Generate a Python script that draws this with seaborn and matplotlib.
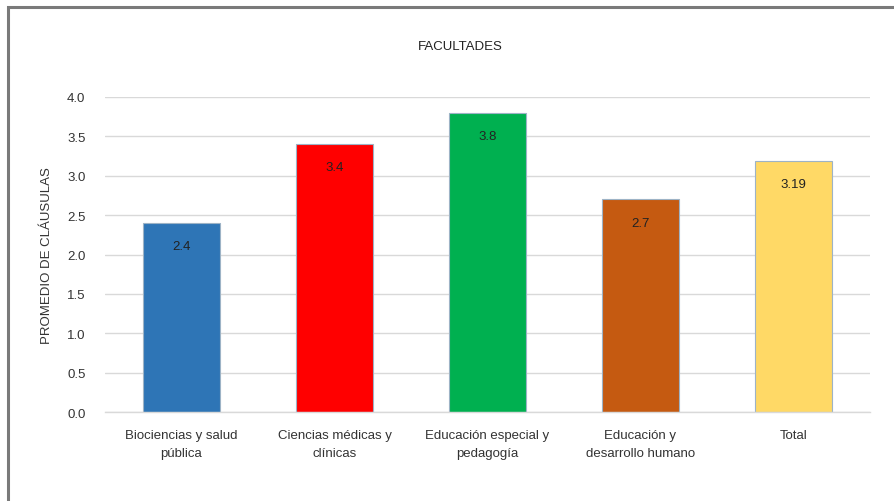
import matplotlib
matplotlib.use("Agg")
import matplotlib.pyplot as plt
import seaborn as sns
import pandas as pd
from matplotlib.patches import Rectangle

categories = ["Biociencias y salud\npública", "Ciencias médicas y\nclínicas",
              "Educación especial y\npedagogía", "Educación y\ndesarrollo humano", "Total"]
values = [2.4, 3.4, 3.8, 2.7, 3.19]
value_labels = ["2.4", "3.4", "3.8", "2.7", "3.19"]
colors = ["#2E75B6", "#FF0000", "#00B050", "#C55A11", "#FFD966"]
yticks = [0.0, 0.5, 1.0, 1.5, 2.0, 2.5, 3.0, 3.5, 4.0]

sns.set_theme(style="white")
plt.rcParams['font.family'] = ['Liberation Sans', 'DejaVu Sans']

df = pd.DataFrame({"cat": categories, "val": values})

fig = plt.figure(figsize=(8.95, 5.02), dpi=100)
ax = fig.add_axes([105/895, 1-413/502, 765/895, (413-98)/502])

sns.barplot(data=df, x="cat", y="val", hue="cat", palette=colors, legend=False,
            width=0.5, ax=ax, edgecolor="#9db3c6", linewidth=0.8, saturation=1)

ax.set_ylim(0, 4.0)
ax.set_xlim(-0.5, 4.5)
ax.set_yticks(yticks)
ax.set_yticklabels([f"{t:.1f}" for t in yticks], fontsize=9.5, color="#333333")
ax.tick_params(axis="x", labelsize=9.5, colors="#333333", length=0, pad=12)
ax.tick_params(axis="y", length=0, pad=14)
for lbl in ax.get_xticklabels():
    lbl.set_linespacing(1.75)
ax.yaxis.grid(True, color="#d9d9d9", linewidth=1)
ax.set_axisbelow(True)
for s in ["top", "right", "left"]:
    ax.spines[s].set_visible(False)
ax.spines["bottom"].set_color("#d9d9d9")
ax.spines["bottom"].set_linewidth(1)
ax.set_xlabel("")
ax.set_ylabel("PROMEDIO DE CLÁUSULAS", fontsize=9.5, color="#333333")
ax.yaxis.set_label_coords(-(105-53)/765, 0.5)

for i, (v, lab) in enumerate(zip(values, value_labels)):
    ax.annotate(lab, xy=(i, v), xytext=(0, -21), textcoords="offset points",
                ha="center", va="bottom", fontsize=9.5, color="#222222")

fig.text(460/895, 1-47/502, "FACULTADES", ha="center", va="center", fontsize=9.5, color="#222222")

fig.patches.append(Rectangle((8/895, -0.1), 1.2, 1-8/502+0.1, transform=fig.transFigure,
                             fill=False, edgecolor="#7a7a7a", linewidth=2.2, figure=fig))

fig.savefig("out.png", dpi=100)
